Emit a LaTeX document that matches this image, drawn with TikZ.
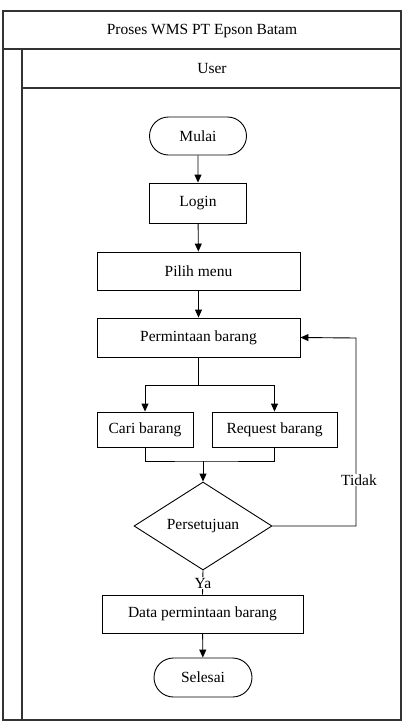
\documentclass[tikz,border=0pt]{standalone}
\usepackage{fontspec}
\setmainfont{Liberation Serif}
\usetikzlibrary{shapes.geometric,shapes.misc,arrows.meta}

\begin{document}
\begin{tikzpicture}[x=1pt, y=-1pt, line width=0.9pt,
    font=\fontsize{15.5}{18}\selectfont,
    proses/.style={draw, rectangle, inner sep=0pt},
    terminal/.style={draw, rounded rectangle, inner sep=0pt},
    keputusan/.style={draw, diamond, aspect=1.57, inner sep=0pt},
    panah/.style={-{Triangle[length=8pt,width=7pt]}},
    label/.style={fill=white, inner sep=1pt}]
    \useasboundingbox (0,0) rectangle (407,726);

    % swimlane
    \begin{scope}[line width=1.3pt, draw=black!80]
        \draw (3,11) rectangle (401,720);
        \draw (3,49) -- (401,49);
        \draw (22,49) -- (22,720);
        \draw (22,88) -- (401,88);
    \end{scope}
    \node (judul) at (202,31) {Proses WMS PT Epson Batam};
    \node (user) at (212,68) {User};

    % flowchart
    \node [terminal, minimum width=97pt, minimum height=38pt] (mulai) at (198,136) {Mulai};
    \node [proses, minimum width=97pt, minimum height=40pt] (login) at (198,203) {Login};
    \node [proses, minimum width=203pt, minimum height=38pt] (menu) at (198.5,271) {Pilih menu};
    \node [proses, minimum width=203pt, minimum height=39pt] (minta) at (198.5,337.5) {Permintaan barang};
    \node [proses, minimum width=96pt, minimum height=35pt] (cari) at (145,429.5) {Cari barang};
    \node [proses, minimum width=125pt, minimum height=35pt] (req) at (274.5,429.5) {Request barang};
    \node [keputusan, minimum width=138pt, minimum height=88pt] (setuju) at (203,526) {Persetujuan};
    \node [proses, minimum width=201pt, minimum height=38pt] (data) at (202.5,614) {Data permintaan barang};
    \node [terminal, minimum width=98pt, minimum height=39pt] (selesai) at (203,677.5) {Selesai};

    \coordinate (cabang) at (198.5,385);
    \coordinate (gabung) at (203,461);
    \coordinate (belok) at (356,338);

    \draw [panah] (mulai) -- (login);
    \draw [panah] (login) -- (menu);
    \draw [panah] (menu) -- (minta);
    \draw (minta) -- (cabang);
    \draw [panah] (cabang) -| (cari.north);
    \draw [panah] (cabang) -| (req.north);
    \draw (cari.south) |- (gabung) -| (req.south);
    \draw [panah] (gabung) -- (setuju.north);
    \draw [panah] (setuju.east) -| (belok) -- (minta.east);
    \draw (setuju.south) -- (data.north);
    \draw [panah] (data) -- (selesai);

    \node [label] (tidak) at (359,480) {Tidak};
    \node [label] (ya) at (203,583) {Ya};
\end{tikzpicture}
\end{document}
